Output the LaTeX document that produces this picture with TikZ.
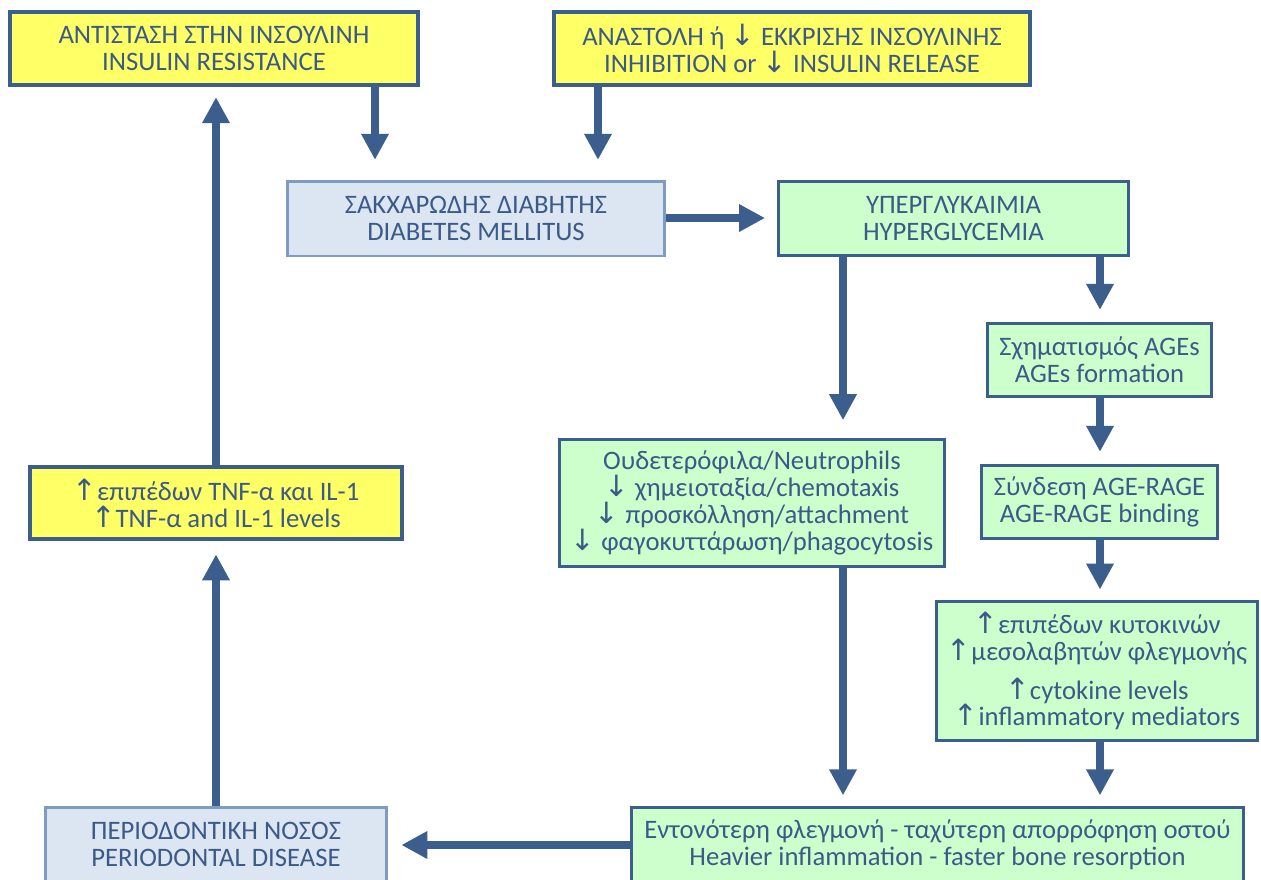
\documentclass[tikz,border=0pt]{standalone}
\usepackage{fontspec}
\setmainfont{Carlito}
\newfontfamily\arrfont{DejaVu Sans}
\usetikzlibrary{arrows.meta}
\definecolor{ylw}{HTML}{FFFF66}
\definecolor{grn}{HTML}{CCFFCC}
\definecolor{lbl}{HTML}{DCE6F2}
\definecolor{bord}{HTML}{3B5E8C}
\definecolor{bbord}{HTML}{7F9CC0}
\definecolor{txt}{HTML}{3B5A88}
\newcommand\ua{{\arrfont\fontsize{22}{20}\selectfont ↑}}
\newcommand\da{{\arrfont\fontsize{22}{20}\selectfont ↓}}
\begin{document}
\begin{tikzpicture}[x=0.75pt,y=-0.75pt,
  box/.style={draw=bord, text=txt, align=center, inner sep=0pt,
    font=\fontsize{20}{20.1}\selectfont},
  ybox/.style={box, fill=ylw, line width=3pt},
  gbox/.style={box, fill=grn, line width=2.2pt},
  bbox/.style={box, fill=lbl, draw=bbord, line width=2pt},
  arr/.style={draw=bord, line width=6pt, -{Triangle[width=19.5pt,length=19.5pt]}}]
\useasboundingbox (0,0) rectangle (1261,879);
\clip (0,0) rectangle (1261,879);
\node[ybox, minimum width=306pt, minimum height=55pt] (res) at (214,48.5) {ΑΝΤΙΣΤΑΣΗ ΣΤΗΝ ΙΝΣΟΥΛΙΝΗ\\INSULIN RESISTANCE};
\node[ybox, minimum width=357pt, minimum height=55pt] (inh) at (792,48.5) {ΑΝΑΣΤΟΛΗ ή \da{} ΕΚΚΡΙΣΗΣ ΙΝΣΟΥΛΙΝΗΣ\\INHIBITION or \da{} INSULIN RELEASE};
\node[bbox, minimum width=283pt, minimum height=56pt] (dm) at (476,218.5) {ΣΑΚΧΑΡΩΔΗΣ ΔΙΑΒΗΤΗΣ\\DIABETES MELLITUS};
\node[gbox, minimum width=262.5pt, minimum height=55.5pt] (hyp) at (953.5,218.5) {ΥΠΕΡΓΛΥΚΑΙΜΙΑ\\HYPERGLYCEMIA};
\node[gbox, minimum width=168pt, minimum height=55pt] (age) at (1099.5,360) {Σχηματισμός AGEs\\AGEs formation};
\node[gbox, minimum width=177pt, minimum height=55pt] (rage) at (1099.5,502) {Σύνδεση AGE-RAGE\\AGE-RAGE binding};
\node[gbox, minimum width=241pt, minimum height=104pt] (cyt) at (1097,671) {\ua επιπέδων κυτοκινών\\\ua μεσολαβητών φλεγμονής\\[9pt]\ua cytokine levels\\\ua inflammatory mediators};
\node[gbox, minimum width=289pt, minimum height=95pt] (neu) at (752,503) {Ουδετερόφιλα/Neutrophils\\\da{} χημειοταξία/chemotaxis\\\da{} προσκόλληση/attachment\\\da{} φαγοκυττάρωση/phagocytosis};
\node[ybox, minimum width=279pt, minimum height=54pt] (tnf) at (216,503) {\ua επιπέδων TNF-α και IL-1\\\ua TNF-α and IL-1 levels};
\node[bbox, minimum width=256pt, minimum height=56pt] (per) at (216,844.5) {ΠΕΡΙΟΔΟΝΤΙΚΗ ΝΟΣΟΣ\\PERIODONTAL DISEASE};
\node[gbox, minimum width=459pt, minimum height=55.5pt] (hv) at (937.5,844.5) {Εντονότερη φλεγμονή - ταχύτερη απορρόφηση οστού\\Heavier inflammation - faster bone resorption};
\coordinate (xa) at (375,0);
\coordinate (xb) at (598,0);
\coordinate (xc) at (216,0);
\coordinate (xd) at (843,0);
\coordinate (xe) at (1100,0);
\coordinate (ya) at (0,218);
\coordinate (yb) at (0,845);
\draw[arr, shorten >=15pt] (res.south -| xa) -- (dm.north -| xa);
\draw[arr, shorten >=15pt] (inh.south -| xb) -- (dm.north -| xb);
\draw[arr, shorten >=7.5pt] (tnf.north -| xc) -- (res.south -| xc);
\draw[arr, shorten >=10pt] (per.north -| xc) -- (tnf.south -| xc);
\draw[arr, shorten >=9pt] (dm.east |- ya) -- (hyp.west |- ya);
\draw[arr, shorten >=13.5pt] (hyp.south -| xd) -- (neu.north -| xd);
\draw[arr, shorten >=9pt] (hyp.south -| xe) -- (age.north -| xe);
\draw[arr, shorten >=9pt] (age.south -| xe) -- (rage.north -| xe);
\draw[arr, shorten >=8pt] (rage.south -| xe) -- (cyt.north -| xe);
\draw[arr, shorten >=8pt] (cyt.south -| xe) -- (hv.north -| xe);
\draw[arr, shorten >=8pt] (neu.south -| xd) -- (hv.north -| xd);
\draw[arr, shorten >=10pt] (hv.west |- yb) -- (per.east |- yb);
\end{tikzpicture}
\end{document}
